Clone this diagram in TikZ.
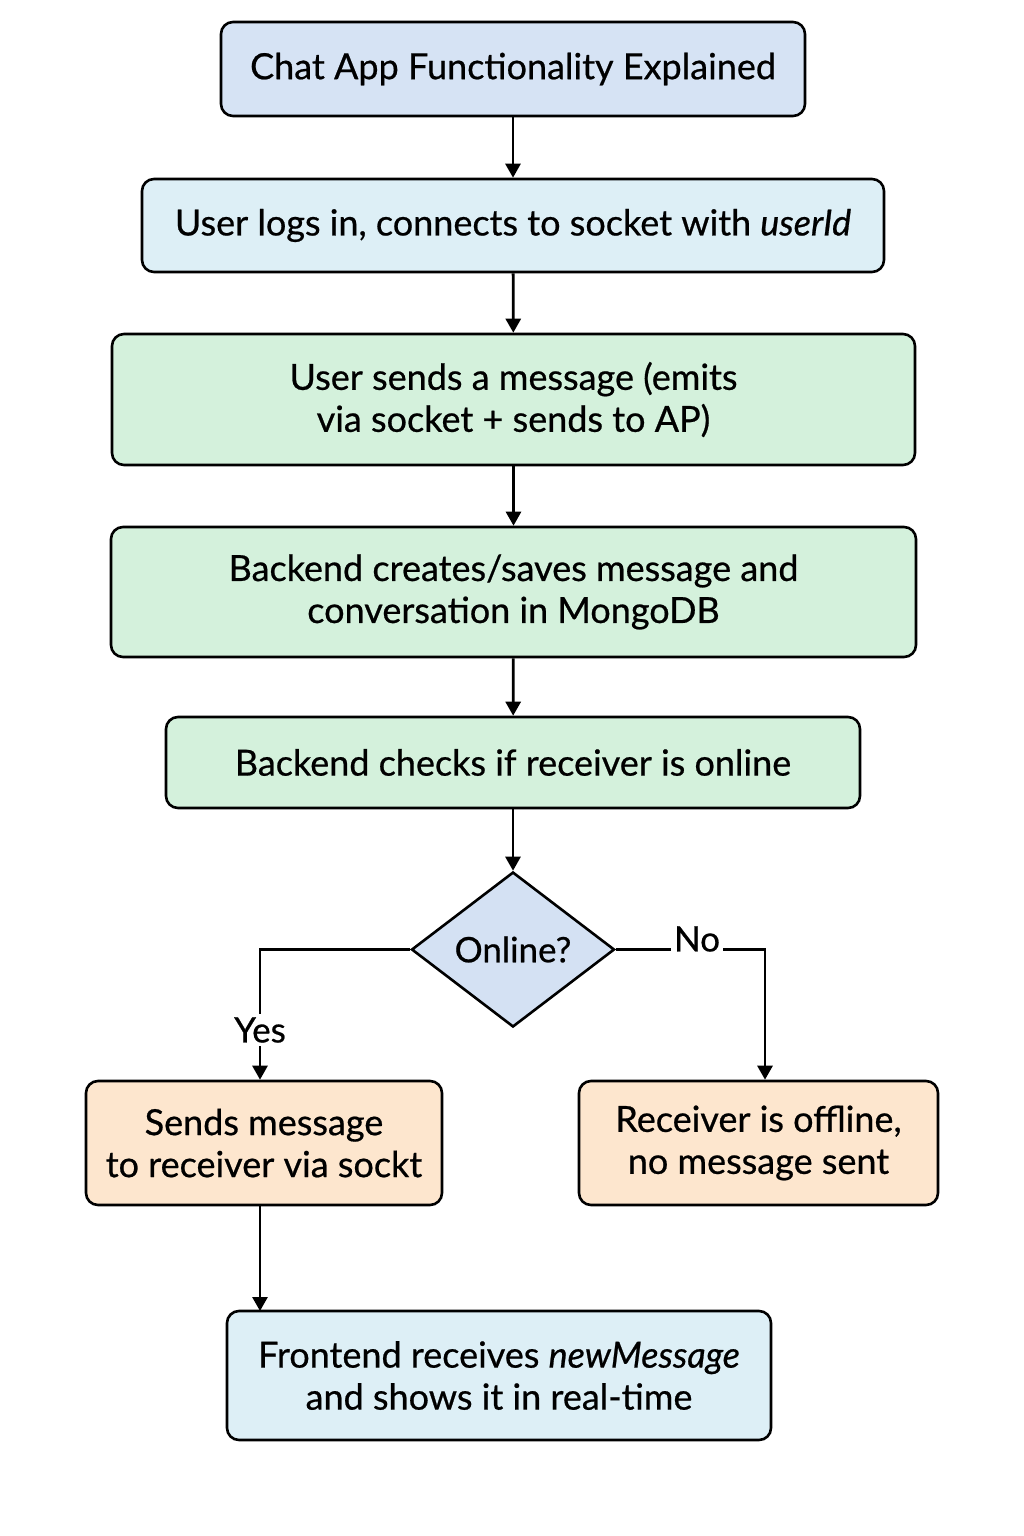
\documentclass[tikz,border=0pt]{standalone}
\usepackage{fontspec}
\setmainfont{Lato}[FakeBold=0.6]
\usetikzlibrary{arrows.meta,shapes.geometric}
\definecolor{titleblue}{HTML}{D6E3F4}
\definecolor{cyanfill}{HTML}{DDEFF6}
\definecolor{greenfill}{HTML}{D4F1DC}
\definecolor{peachfill}{HTML}{FDE6CE}
\definecolor{diafill}{HTML}{D4E1F3}
\begin{document}
\begin{tikzpicture}[x=1pt,y=-1pt,
  box/.style={draw=black, line width=2.6pt, rounded corners=12pt, align=center,
    inner sep=0pt, font=\fontsize{36}{42}\selectfont, text=black},
  conn/.style={line width=2.8pt, -{Triangle[width=15pt,length=14pt]}},
  lbl/.style={fill=white, inner sep=3pt, font=\fontsize{35}{40}\selectfont}]
\fill[white] (0,0) rectangle (1024,1536);
\node[box, fill=titleblue, minimum width=584pt, minimum height=94pt] (t) at (513,69) {Chat App Functionality Explained};
\node[box, fill=cyanfill, minimum width=742pt, minimum height=93pt] (login) at (513,225.5) {User logs in, connects to socket with \textit{userId}};
\node[box, fill=greenfill, minimum width=803pt, minimum height=131pt] (send) at (513.5,399.5) {User sends a message (emits\\ via socket + sends to AP)};
\node[box, fill=greenfill, minimum width=805pt, minimum height=130pt] (save) at (513.5,592) {Backend creates/saves message and\\ conversation in MongoDB};
\node[box, fill=greenfill, minimum width=694pt, minimum height=91pt] (check) at (513,762.5) {Backend checks if receiver is online};
\node[draw=black, line width=2.6pt, fill=diafill, diamond, aspect=1.31, minimum width=203pt, minimum height=155pt, inner sep=0pt, font=\fontsize{35}{40}\selectfont] (online) at (513,949.5) {Online?};
\node[box, fill=peachfill, minimum width=356pt, minimum height=124pt] (yes) at (264,1143) {Sends message\\ to receiver via sockt};
\node[box, fill=peachfill, minimum width=359pt, minimum height=124pt] (no) at (758.5,1143) {Receiver is offline,\\ no message sent};
\node[box, fill=cyanfill, minimum width=544pt, minimum height=129pt] (front) at (499,1375.5) {Frontend receives \textit{newMessage}\\ and shows it in real-time};
\coordinate (yc) at (260,949.5);
\coordinate (nc) at (765,949.5);
\draw[conn] (t) -- (login);
\draw[conn] (login) -- (send);
\draw[conn] (send) -- (save);
\draw[conn] (save) -- (check);
\draw[conn] (check) -- (online);
\draw[conn] (online.west) -- (yc) -- (yc |- yes.north);
\draw[conn] (online.east) -- (nc) -- (nc |- no.north);
\draw[conn] (260,1205) -- (260,1311);
\node[lbl] (yeslbl) at (260,1030) {Yes};
\node[lbl] (nolbl) at (697,939) {No};
\end{tikzpicture}
\end{document}
